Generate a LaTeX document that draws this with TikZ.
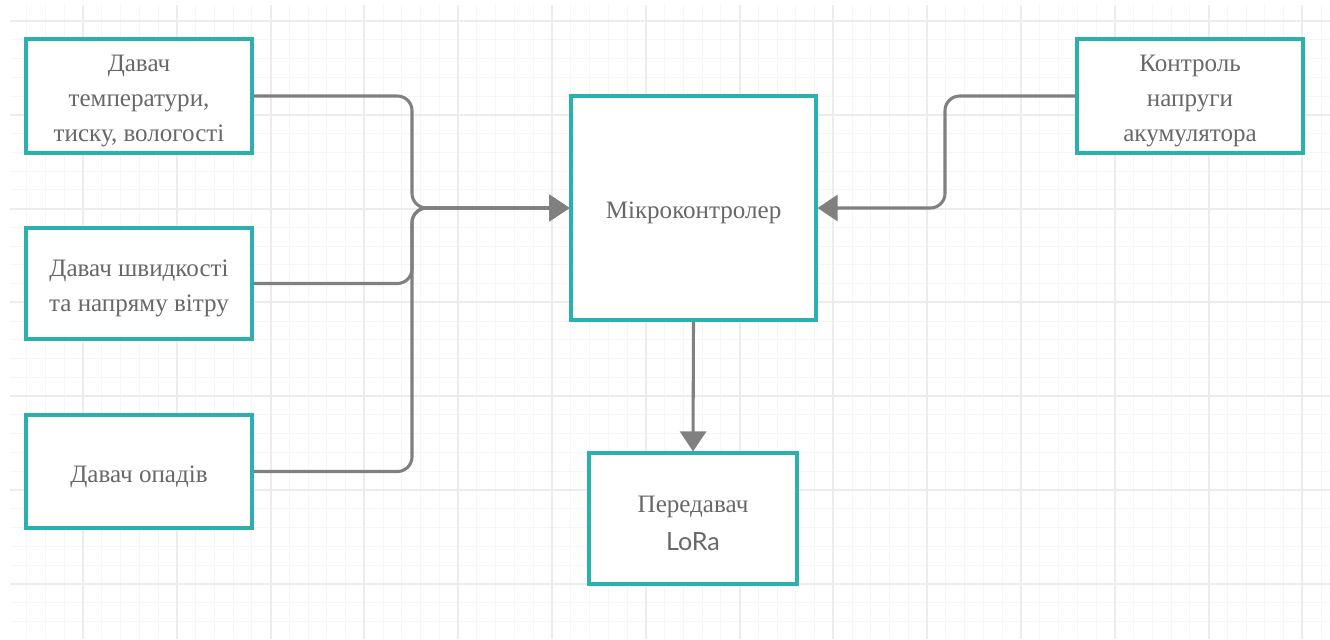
\documentclass[tikz,border=0pt]{standalone}
\usepackage{fontspec}
\setmainfont{Liberation Serif}
\newfontfamily\latofont{Lato}
\usetikzlibrary{arrows.meta}
\definecolor{teal1}{RGB}{43,176,176}
\definecolor{wire}{RGB}{128,128,128}
\definecolor{ink}{RGB}{104,104,104}
\definecolor{gridmajor}{RGB}{236,236,236}
\definecolor{gridminor}{RGB}{246,246,246}
% tall strut that lowers the text block a little inside its box
\newcommand{\topstrut}{\rule{0pt}{20pt}}
\tikzset{
  block/.style={draw=teal1, line width=2.4pt, fill=white, inner sep=0pt,
    align=center, text=ink, font=\fontsize{18.8pt}{26.25pt}\selectfont},
  wirepath/.style={draw=wire, line width=2.3pt, rounded corners=11pt},
  tip/.style={-{Triangle[length=15pt, width=19.5pt]}}
}
\begin{document}
\begin{tikzpicture}[x=0.75pt, y=-0.75pt]
  % canvas
  \useasboundingbox (0,0) rectangle (1330,639);
  \fill[white] (0,0) rectangle (1330,639);
  % background grid
  \begin{scope}
    \clip (10,5) rectangle (1330,639);
    \foreach \j in {-4,...,66} {
      \draw[gridminor, line width=0.75pt] ({83+18.76*\j},5) -- ({83+18.76*\j},639);
    }
    \foreach \j in {-1,...,33} {
      \draw[gridminor, line width=0.75pt] (10,{21+18.76*\j}) -- (1330,{21+18.76*\j});
    }
    \foreach \k in {0,...,13} {
      \draw[gridmajor, line width=1.5pt] ({83+93.8*\k},5) -- ({83+93.8*\k},639);
    }
    \foreach \k in {0,...,6} {
      \draw[gridmajor, line width=1.5pt] (10,{21+93.8*\k}) -- (1330,{21+93.8*\k});
    }
  \end{scope}

  % blocks
  \node[block, minimum width=226*0.75pt, minimum height=114*0.75pt] (s1) at (139,96)
    {\topstrut Давач\\температури,\\тиску, вологості};
  \node[block, minimum width=226*0.75pt, minimum height=111*0.75pt] (s2) at (139,283.5)
    {\topstrut Давач швидкості\\та напряму вітру};
  \node[block, minimum width=226*0.75pt, minimum height=113*0.75pt] (s3) at (139,471.5)
    {\topstrut Давач опадів};
  \node[block, minimum width=245*0.75pt, minimum height=224*0.75pt] (mcu) at (693.5,208)
    {\topstrut Мікроконтролер};
  \node[block, minimum width=208*0.75pt, minimum height=131*0.75pt] (tx) at (693,518.5)
    {\topstrut Передавач\\[2pt]{\latofont LoRa}};
  \node[block, minimum width=226*0.75pt, minimum height=114*0.75pt] (bat) at (1190,96)
    {\topstrut Контроль\\напруги\\акумулятора};

  % junction points of the wiring
  \coordinate (jl) at (412,208);
  \coordinate (jr) at (945,208);

  % connectors
  \draw[wirepath, tip] (s1.east) -| (jl) -- (mcu.west);
  \draw[wirepath, tip] (s2.east) -| (jl) -- (mcu.west);
  \draw[wirepath, tip] (s3.east) -| (jl) -- (mcu.west);
  \draw[wirepath, tip] (bat.west) -| (jr) -- (mcu.east);
  \draw[wirepath, tip] (mcu.south) -- (tx.north);
\end{tikzpicture}
\end{document}
